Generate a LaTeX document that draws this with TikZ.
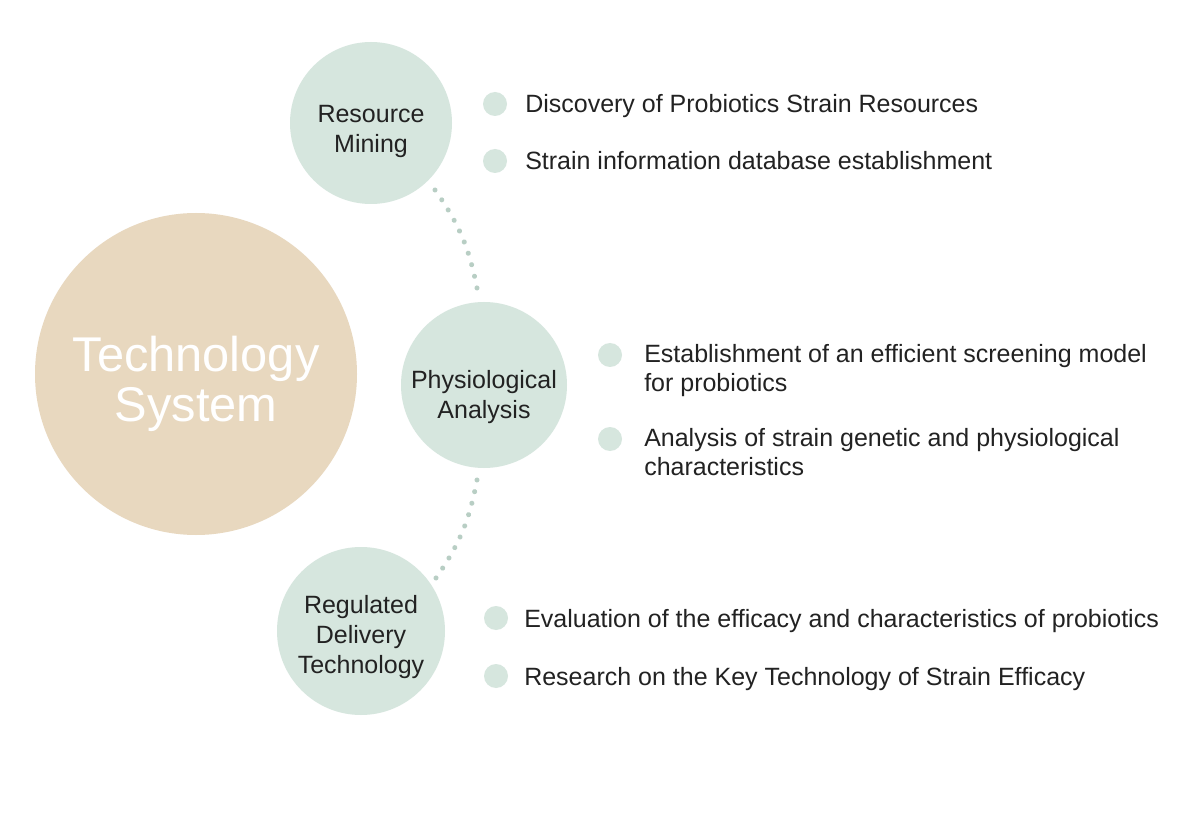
\documentclass[tikz,border=0pt]{standalone}
\usepackage{fontspec}
\setmainfont{Liberation Sans}
\usetikzlibrary{decorations.markings}
\definecolor{sage}{HTML}{D6E6DE}
\definecolor{sagedot}{HTML}{B8CEC4}
\definecolor{beige}{HTML}{E8D8BF}
\definecolor{ink}{HTML}{222222}
\begin{document}
\begin{tikzpicture}[x=0.75pt,y=-0.75pt,
  hub/.style={circle,fill=beige,inner sep=0pt,minimum size=241.5pt},
  hubtext/.style={inner sep=0pt,text=white,align=center,
    font=\fontsize{36.6}{37.5}\selectfont},
  topic/.style={circle,fill=sage,inner sep=0pt},
  topictext/.style={inner sep=0pt,text=ink,align=center,
    font=\fontsize{18.75}{22.5}\selectfont},
  bullet/.style={circle,fill=sage,inner sep=0pt,minimum size=18pt},
  item/.style={anchor=base west,inner sep=0pt,text=ink,align=left,
    font=\fontsize{18.75}{21.75}\selectfont},
  dotline/.style={postaction={decorate},decoration={markings,
    mark=between positions 0 and 1 step 0.1111 with {\fill[sagedot] (0,0) circle (1.9pt);}}}]
\useasboundingbox (0,0) rectangle (1200,827);
\fill[white] (0,0) rectangle (1200,827);

\node[hub] (hub) at (196,374) {};
\node[hubtext] (hubt) at (196,384) {Technology\\System};

\node[topic,minimum size=121.5pt] (rm) at (371,123) {};
\node[topictext] (rmt) at (371,131) {Resource\\Mining};
\node[topic,minimum size=124.5pt] (pa) at (484,385) {};
\node[topictext] (pat) at (484,397) {Physiological\\Analysis};
\node[topic,minimum size=126pt] (rd) at (361,631) {};
\node[topictext] (rdt) at (361,637) {Regulated\\Delivery\\Technology};

\coordinate (u1) at (435,190);
\coordinate (u2) at (477,288);
\coordinate (l1) at (477,480);
\coordinate (l2) at (436,578);
\path[dotline] (u1) to[bend left=12] (u2);
\path[dotline] (l1) to[bend left=12] (l2);

\node[bullet] (b1) at (495,104) {};
\node[bullet] (b2) at (495,161) {};
\node[item] (t1) at (525,113) {Discovery of Probiotics Strain Resources};
\node[item] (t2) at (525,170) {Strain information database establishment};

\node[bullet] (b3) at (610,355) {};
\node[bullet] (b4) at (610,439) {};
\node[item] (t3) at (644,392) {Establishment of an efficient screening model\\for probiotics};
\node[item] (t4) at (644,475) {Analysis of strain genetic and physiological\\characteristics};

\node[bullet] (b5) at (496,618) {};
\node[bullet] (b6) at (496,676) {};
\node[item] (t5) at (524,627) {Evaluation of the efficacy and characteristics of probiotics};
\node[item] (t6) at (524,685) {Research on the Key Technology of Strain Efficacy};
\end{tikzpicture}
\end{document}
